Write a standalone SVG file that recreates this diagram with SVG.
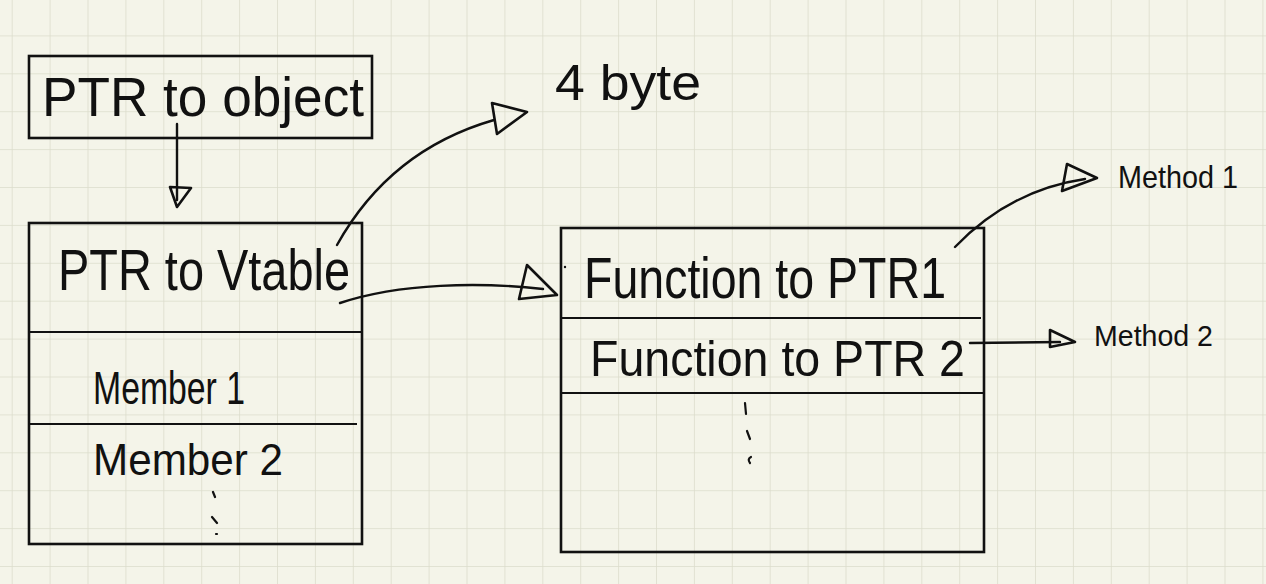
<svg xmlns="http://www.w3.org/2000/svg" width="1266" height="584" viewBox="0 0 1266 584">
<defs>
<pattern id="grid" x="11.7" y="35.4" width="37.9" height="37.9" patternUnits="userSpaceOnUse">
<path d="M0,0 H37.9 M0,0 V37.9" fill="none" stroke="#dcddcc" stroke-width="1.6"/>
</pattern>
<style>
.box{fill:none;stroke:#111;stroke-width:2.6}
.div{stroke:#111;stroke-width:2.2;fill:none}
.t{font-family:"Liberation Sans","DejaVu Sans",sans-serif;fill:#111;font-weight:normal}
.c{fill:none;stroke:#111;stroke-width:2.4;stroke-linecap:round;stroke-linejoin:round}
.ah{fill:none;stroke:#111;stroke-width:2.6;stroke-linejoin:round}
.dot{stroke:#111;stroke-width:2.2;stroke-linecap:round;fill:none}
</style>
</defs>
<rect width="1266" height="584" fill="#f4f4e9"/>
<rect width="1266" height="584" fill="url(#grid)"/>

<g id="node-ptr-object">
<rect class="box" x="29" y="56" width="343" height="82"/>
<text class="t" x="42" y="116" font-size="56" textLength="322" lengthAdjust="spacingAndGlyphs">PTR to object</text>
</g>

<g id="node-object">
<rect class="box" x="29" y="223" width="333" height="321"/>
<line class="div" x1="29" y1="332" x2="362" y2="332"/>
<line class="div" x1="29" y1="424" x2="357" y2="424"/>
<text class="t" x="58" y="290" font-size="58" textLength="292" lengthAdjust="spacingAndGlyphs">PTR to Vtable</text>
<text class="t" x="93" y="404" font-size="46" textLength="152" lengthAdjust="spacingAndGlyphs">Member 1</text>
<text class="t" x="93" y="475" font-size="44" textLength="190" lengthAdjust="spacingAndGlyphs">Member 2</text>
<path class="dot" d="M213,492 L215,497 M212,517 L217,523 M216,534 L217,534"/>
</g>

<g id="node-vtable">
<rect class="box" x="561" y="228" width="423" height="324"/>
<line class="div" x1="561" y1="318" x2="981" y2="318"/>
<line class="div" x1="561" y1="393" x2="984" y2="393"/>
<text class="t" x="584" y="298" font-size="58" textLength="362" lengthAdjust="spacingAndGlyphs">Function to PTR1</text>
<text class="t" x="590" y="376" font-size="50" textLength="375" lengthAdjust="spacingAndGlyphs">Function to PTR 2</text>
<path class="dot" d="M745,403 L746,414 M747,431 L750,439 M751,457 Q747,459 750,463"/>
</g>

<g id="node-4byte">
<text class="t" x="555" y="100" font-size="50" textLength="146" lengthAdjust="spacingAndGlyphs">4 byte</text>
</g>

<g id="node-method1">
<text class="t" x="1118" y="188" font-size="32" textLength="120" lengthAdjust="spacingAndGlyphs">Method 1</text>
</g>

<g id="node-method2">
<text class="t" x="1094" y="346" font-size="30" textLength="119" lengthAdjust="spacingAndGlyphs">Method 2</text>
</g>

<g id="connectors">
<line class="c" x1="177" y1="124" x2="177" y2="200"/>
<polygon class="ah" points="170,187 191,188 177,207"/>

<path class="c" d="M337,245 Q390,150 494,120"/>
<polygon class="ah" points="492,103 527,112 497,134"/>

<path class="c" d="M340,303 C400,283 480,282 543,289"/>
<polygon class="ah" points="527,265 557,295 519,299"/>
<circle cx="565" cy="267" r="1.2" fill="#111"/>

<path class="c" d="M955,247 Q1010,190 1085,179"/>
<polygon class="ah" points="1067,164 1097,178 1062,191"/>

<path class="c" d="M970,343 L1060,342"/>
<polygon class="ah" points="1050,330 1075,342 1050,347"/>
</g>
</svg>
